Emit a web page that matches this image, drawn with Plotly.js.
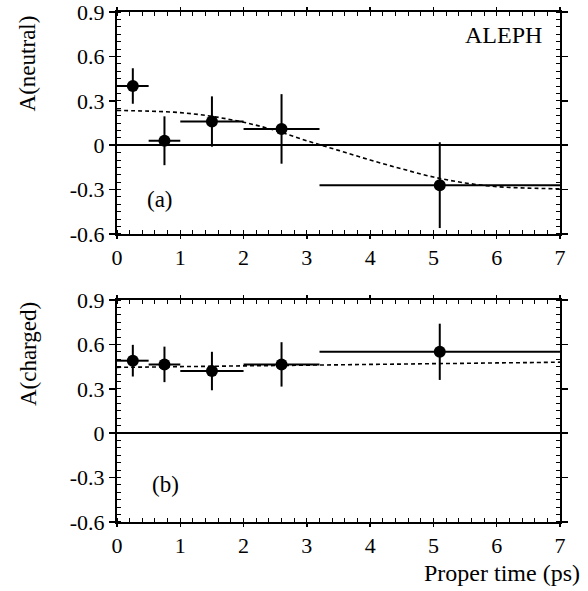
<!DOCTYPE html>
<html>
<head>
<meta charset="utf-8">
<script src="https://cdn.plot.ly/plotly-3.0.1.min.js"></script>
<style>html,body{margin:0;padding:0;background:#fff;}#chart{width:588px;height:591px;}</style>
</head>
<body>
<div id="chart"></div>
<script>
// Proper-time bins (ps)
var binLo = [0, 0.5, 1.0, 2.0, 3.2];
var binHi = [0.5, 1.0, 2.0, 3.2, 7.0];
var tCenter = [0.25, 0.75, 1.5, 2.6, 5.1];

// Panel (a): neutral
var aNeutral = [0.40, 0.03, 0.16, 0.11, -0.27];
var errNeutral = [0.12, 0.165, 0.17, 0.235, 0.29];

// Panel (b): charged
var aCharged = [0.49, 0.465, 0.42, 0.465, 0.55];
var errCharged = [0.107, 0.12, 0.13, 0.15, 0.19];

// Fit curves (dashed)
var fitT = [0, 0.5, 1, 1.5, 2, 2.5, 3, 3.5, 4, 4.5, 5, 5.5, 6, 6.5, 7];
var fitNeutral = [0.235, 0.23, 0.22, 0.195, 0.155, 0.10, 0.03, -0.035, -0.10, -0.16, -0.215, -0.255, -0.28, -0.29, -0.295];
var fitCharged = [0.445, 0.447, 0.45, 0.452, 0.455, 0.457, 0.46, 0.462, 0.465, 0.467, 0.47, 0.472, 0.475, 0.477, 0.48];

var yTicks = [-0.6, -0.3, 0, 0.3, 0.6, 0.9];
var yTickText = ['-0.6', '-0.3', '0', '0.3', '0.6', '0.9'];
var xTicks = [0, 1, 2, 3, 4, 5, 6, 7];

var errPlus = tCenter.map(function (c, i) { return binHi[i] - c; });
var errMinus = tCenter.map(function (c, i) { return c - binLo[i]; });

function pointsTrace(yv, ev, xa, ya) {
  return {
    x: tCenter, y: yv, xaxis: xa, yaxis: ya, type: 'scatter', mode: 'markers',
    marker: {color: '#000', size: 12, symbol: 'circle'},
    error_x: {type: 'data', symmetric: false, array: errPlus, arrayminus: errMinus, color: '#000', thickness: 2, width: 0},
    error_y: {type: 'data', array: ev, color: '#000', thickness: 2, width: 0},
    showlegend: false, hoverinfo: 'skip', cliponaxis: false
  };
}
function fitTrace(yv, xa, ya) {
  return {
    x: fitT, y: yv, xaxis: xa, yaxis: ya, type: 'scatter', mode: 'lines',
    line: {color: '#000', width: 1.6, dash: '4px,3px', shape: 'spline'},
    showlegend: false, hoverinfo: 'skip'
  };
}

var data = [
  fitTrace(fitNeutral, 'x', 'y'),
  pointsTrace(aNeutral, errNeutral, 'x', 'y'),
  fitTrace(fitCharged, 'x2', 'y2'),
  pointsTrace(aCharged, errCharged, 'x2', 'y2')
];

var FAM = '"Liberation Serif", "Times New Roman", serif';
var font = {family: FAM, size: 22, color: '#000'};

function xAxis(anchor) {
  return {
    anchor: anchor, domain: [0, 1], range: [0, 7], tickvals: xTicks,
    ticks: 'outside', ticklen: 3, tickwidth: 1.5, tickcolor: '#000',
    minor: {dtick: 0.2, ticks: 'inside', ticklen: 4, tickwidth: 1, tickcolor: '#000'},
    showline: true, linecolor: '#000', linewidth: 2, mirror: 'allticks',
    showgrid: false, zeroline: false, tickfont: font, automargin: false,
    ticklabeloverflow: 'allow'
  };
}
function yAxis(anchor, domain) {
  return {
    anchor: anchor, domain: domain, range: [-0.6001, 0.9001], tickvals: yTicks, ticktext: yTickText,
    ticks: 'outside', ticklen: 6, tickwidth: 1.5, tickcolor: '#000',
    minor: {dtick: 0.05, ticks: 'inside', ticklen: 4, tickwidth: 1, tickcolor: '#000'},
    showline: true, linecolor: '#000', linewidth: 2, mirror: 'allticks',
    showgrid: false, zeroline: true, zerolinecolor: '#000', zerolinewidth: 1.5, tickfont: font, automargin: false,
    ticklabeloverflow: 'allow'
  };
}

var layout = {
  width: 588, height: 591,
  margin: {l: 117, r: 28, t: 12, b: 69},
  paper_bgcolor: '#fff', plot_bgcolor: '#fff',
  font: font,
  xaxis: xAxis('y'),
  yaxis: yAxis('x', [0.5647, 1]),
  xaxis2: xAxis('y2'),
  yaxis2: yAxis('x2', [0, 0.4353]),
  annotations: [
    {text: 'ALEPH', xref: 'paper', yref: 'paper', x: 0.965, y: 0.955, xanchor: 'right', yanchor: 'middle', showarrow: false, font: {family: FAM, size: 24, color: '#000'}},
    {text: '(a)', xref: 'x', yref: 'y', x: 0.44, y: -0.37, xanchor: 'left', yanchor: 'middle', showarrow: false, font: {family: FAM, size: 23, color: '#000'}},
    {text: '(b)', xref: 'x2', yref: 'y2', x: 0.52, y: -0.35, xanchor: 'left', yanchor: 'middle', showarrow: false, font: {family: FAM, size: 23, color: '#000'}},
    {text: 'A(neutral)', xref: 'paper', yref: 'paper', x: -0.2, y: 0.9, xanchor: 'center', yanchor: 'middle', textangle: -90, showarrow: false, font: {family: FAM, size: 23, color: '#000'}},
    {text: 'A(charged)', xref: 'paper', yref: 'paper', x: -0.2, y: 0.33, xanchor: 'center', yanchor: 'middle', textangle: -90, showarrow: false, font: {family: FAM, size: 23, color: '#000'}},
    {text: 'Proper time (ps)', xref: 'paper', yref: 'paper', x: 1.05, y: -0.13, xanchor: 'right', yanchor: 'bottom', showarrow: false, font: {family: FAM, size: 24, color: '#000'}}
  ]
};

Plotly.newPlot('chart', data, layout, {displayModeBar: false, staticPlot: true});
</script>
</body>
</html>
